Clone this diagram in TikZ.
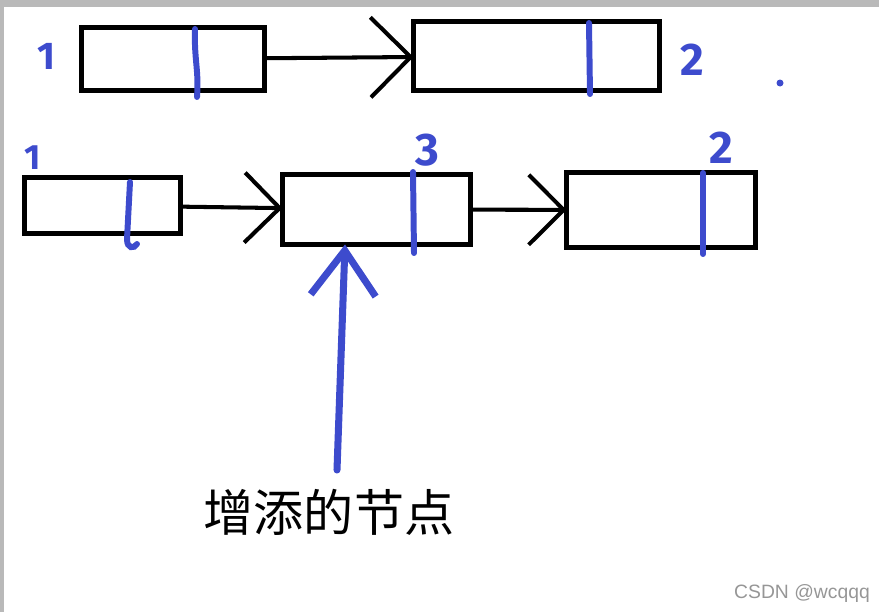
\documentclass[tikz,border=0pt]{standalone}
\usepackage{xcolor}
\usepackage{fontspec}
\usepackage{tikz}
\usetikzlibrary{arrows.meta,positioning}
\newfontfamily\cjkfont{Noto Sans CJK SC}
\newfontfamily\penfont{Fira Sans}
\newfontfamily\markfont{Liberation Sans}
\definecolor{penblue}{RGB}{61,75,205}
\definecolor{framegray}{RGB}{185,185,185}
\definecolor{markgray}{RGB}{150,150,150}
\tikzset{
  lbox/.style={draw=black, line width=3.2pt, inner sep=0pt, outer sep=0pt},
  larr/.style={-{Straight Barb[length=7mm,width=14mm]}, line width=2.3pt},
  pen/.style={draw=penblue, line width=3.4pt, line cap=round},
  bluearr/.style={-{Straight Barb[length=9mm,width=13mm]}, draw=penblue, line width=4pt, line cap=round},
  num/.style={text=penblue, font=\penfont\bfseries\fontsize{26}{26}\selectfont, inner sep=0pt}
}

\begin{document}
\begin{tikzpicture}[x=0.02cm, y=-0.02cm]
\useasboundingbox (0,0) rectangle (879,612);
\fill[framegray] (0,0) rectangle (879,7);
\fill[framegray] (0,0) rectangle (4,612);
% old list
\node[lbox, minimum width=3.66cm, minimum height=1.26cm] (a1) at (173,59) {};
\node[lbox, minimum width=4.92cm, minimum height=1.38cm] (a2) at (536.5,56) {};
\draw[larr, -{Straight Barb[length=8mm,width=16mm]}] (a1)--(a2);
% new list
\node[lbox, minimum width=3.12cm, minimum height=1.12cm] (b1) at (102.5,205.5) {};
\node[lbox, minimum width=3.76cm, minimum height=1.40cm] (b2) at (376.5,209.5) {};
\node[lbox, minimum width=3.78cm, minimum height=1.50cm] (b3) at (661,210) {};
\draw[larr] (b1)--(b2); \draw[larr] (b2)--(b3);
% pen marks
\draw[pen] (195,29) .. controls (194,60) and (199,70) .. (197,97);
\draw[pen] (589,23) -- (590,94);
\draw[pen] (130,182) -- (127,239) .. controls (127,249) and (134,249) .. (137,244);
\draw[pen] (413,172) -- (414,253);
\draw[pen] (703,173) -- (703,254);
\fill[penblue] (780,83) circle (0.07cm);
\node[num, font=\penfont\bfseries\fontsize{22}{22}\selectfont] (n1) at (46,56) {1};
\node[num] (n2) at (692,60) {2};
\node[num, font=\penfont\bfseries\fontsize{20}{20}\selectfont] (m1) at (33,158) {1};
\node[num] (m3) at (427,150) {3};
\node[num] (m2) at (721,148) {2};
% new node
\node[font=\cjkfont\fontsize{28.5}{28.5}\selectfont, inner sep=0pt] (added) at (329,512) {增添的节点};
\coordinate (tail) at (337,470);
\draw[bluearr] (tail) -- ([xshift=-0.63cm]b2.south);
\node[font=\markfont\fontsize{11}{11}\selectfont, text=markgray, inner sep=0pt] (mark) at (802,593) {CSDN @wcqqq};
\end{tikzpicture}
\end{document}
